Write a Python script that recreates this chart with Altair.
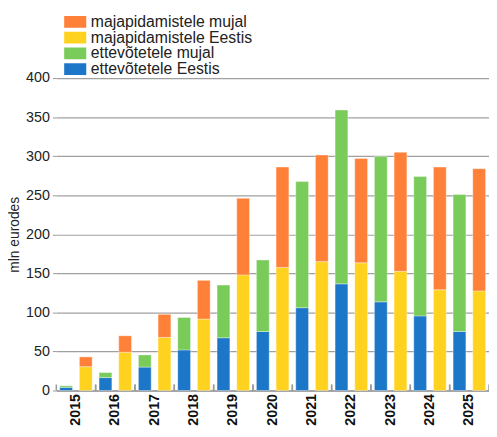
import altair as alt
import pandas as pd

years = [str(y) for y in range(2015, 2026)]
ett_eestis = [4, 16.5, 30, 52, 67.5, 75.5, 106, 136.5, 113.5, 95.5, 75.5]
ett_mujal = [2, 6.5, 15.5, 41.5, 67.5, 91.5, 161.5, 222.5, 186, 178.5, 175.5]
maj_eestis = [30.5, 49, 68, 91.5, 148, 157.5, 165, 163.5, 152.5, 129, 127.5]
maj_mujal = [12.5, 21, 29.5, 49.5, 98, 128.5, 136.5, 133.5, 152.5, 157, 156.5]

series_names = ["majapidamistele mujal", "majapidamistele Eestis",
                "ettevõtetele mujal", "ettevõtetele Eestis"]
colors = ["#FF8038", "#FFD21F", "#7ACC5A", "#1C77C8"]
groups = ["ettevõtetele", "majapidamistele"]

rows = []
for i, y in enumerate(years):
    rows.append(dict(year=y, grp=groups[0], series=series_names[3], value=ett_eestis[i], ord=0))
    rows.append(dict(year=y, grp=groups[0], series=series_names[2], value=ett_mujal[i], ord=1))
    rows.append(dict(year=y, grp=groups[1], series=series_names[1], value=maj_eestis[i], ord=0))
    rows.append(dict(year=y, grp=groups[1], series=series_names[0], value=maj_mujal[i], ord=1))
df = pd.DataFrame(rows)
ticks_df = pd.DataFrame({"year": years})

xscale = alt.Scale(domain=years, paddingInner=0, paddingOuter=0)
xaxis = alt.Axis(labelAngle=-90, labelFontSize=14.5, labelFontWeight="bold",
                 labelColor="#111", ticks=False, labelPadding=3,
                 domainColor="#999", domainWidth=1.5, grid=False)

bars = alt.Chart(df).mark_bar(stroke="white", strokeOpacity=0.35, strokeWidth=1).encode(
    x=alt.X("year:N", scale=xscale, title=None, axis=xaxis),
    xOffset=alt.XOffset("grp:N", scale=alt.Scale(domain=groups, paddingInner=0.35, paddingOuter=0.175)),
    y=alt.Y("value:Q", stack="zero", scale=alt.Scale(domain=[0, 400]),
            title="mln eurodes",
            axis=alt.Axis(values=list(range(0, 401, 50)), labelFontSize=14.5, labelColor="#222",
                          domain=False, tickSize=4, tickColor="#999", labelPadding=3,
                          gridColor="#a0a0a0", gridWidth=1.2,
                          titleFontSize=14, titleFontWeight="normal", titleColor="#222",
                          titlePadding=4)),
    color=alt.Color("series:N", scale=alt.Scale(domain=series_names, range=colors),
                    legend=alt.Legend(title=None, orient="none", legendX=8, legendY=-64,
                                      symbolType="M-2.4,-1H2.4V1H-2.4Z", symbolSize=144,
                                      symbolStrokeWidth=0, symbolOpacity=1,
                                      labelFontSize=16, labelColor="#222", labelOffset=11,
                                      labelLimit=400,
                                      clipHeight=14, rowPadding=0, padding=0)),
    order=alt.Order("ord:Q"),
)

tick0 = alt.Chart(ticks_df).mark_rule(color="#999", strokeWidth=1.5).encode(
    x=alt.X("year:N", scale=xscale, bandPosition=0, title=None, axis=xaxis),
    y=alt.value(311), y2=alt.value(317),
)
tick1 = alt.Chart(ticks_df).mark_rule(color="#999", strokeWidth=1.5).encode(
    x=alt.X("year:N", scale=xscale, bandPosition=1, title=None, axis=xaxis),
    y=alt.value(311), y2=alt.value(317),
)

chart = alt.layer(bars, tick0, tick1).properties(
    width=439, height=317,
    autosize=alt.AutoSizeParams(type="none"),
    padding={"left": 49, "top": 68, "right": 0, "bottom": 36},
).configure(font="Liberation Sans").configure_view(stroke=None)

chart.save("out.html", embed_options={"renderer": "svg", "actions": False})
